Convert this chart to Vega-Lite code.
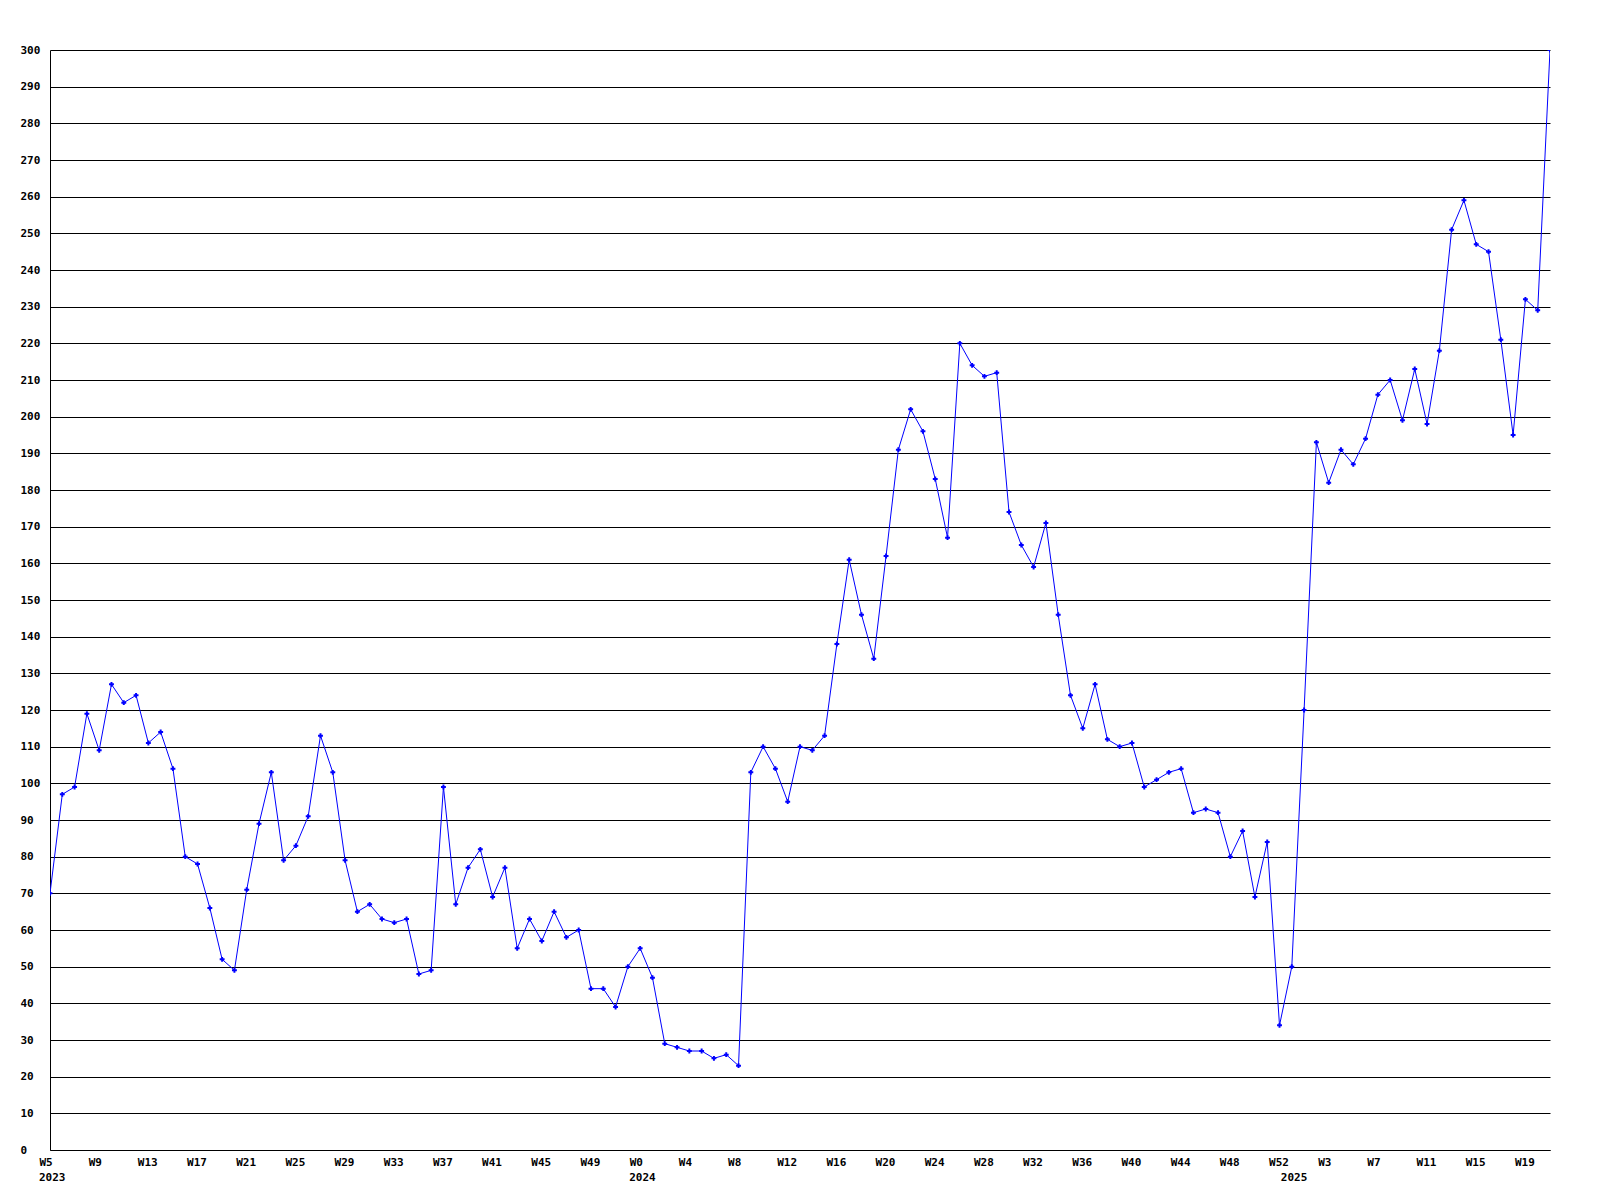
{
  "$schema": "https://vega.github.io/schema/vega-lite/v6.json",
  "width": 1500,
  "height": 1100,
  "autosize": {"type": "none"},
  "padding": {"left": 50, "top": 50, "right": 50, "bottom": 50},
  "background": "white",
  "config": {
    "view": {"stroke": null},
    "axis": {"labelFont": "DejaVu Sans Mono", "labelFontWeight": "bold", "labelFontSize": 11, "labelColor": "black"}
  },
  "data": {"values": [
    {"key":"2023 W5","year":"2023","value":70},{"key":"2023 W6","year":"2023","value":97},{"key":"2023 W7","year":"2023","value":99},{"key":"2023 W8","year":"2023","value":119},
    {"key":"2023 W9","year":"2023","value":109},{"key":"2023 W10","year":"2023","value":127},{"key":"2023 W11","year":"2023","value":122},{"key":"2023 W12","year":"2023","value":124},
    {"key":"2023 W13","year":"2023","value":111},{"key":"2023 W14","year":"2023","value":114},{"key":"2023 W15","year":"2023","value":104},{"key":"2023 W16","year":"2023","value":80},
    {"key":"2023 W17","year":"2023","value":78},{"key":"2023 W18","year":"2023","value":66},{"key":"2023 W19","year":"2023","value":52},{"key":"2023 W20","year":"2023","value":49},
    {"key":"2023 W21","year":"2023","value":71},{"key":"2023 W22","year":"2023","value":89},{"key":"2023 W23","year":"2023","value":103},{"key":"2023 W24","year":"2023","value":79},
    {"key":"2023 W25","year":"2023","value":83},{"key":"2023 W26","year":"2023","value":91},{"key":"2023 W27","year":"2023","value":113},{"key":"2023 W28","year":"2023","value":103},
    {"key":"2023 W29","year":"2023","value":79},{"key":"2023 W30","year":"2023","value":65},{"key":"2023 W31","year":"2023","value":67},{"key":"2023 W32","year":"2023","value":63},
    {"key":"2023 W33","year":"2023","value":62},{"key":"2023 W34","year":"2023","value":63},{"key":"2023 W35","year":"2023","value":48},{"key":"2023 W36","year":"2023","value":49},
    {"key":"2023 W37","year":"2023","value":99},{"key":"2023 W38","year":"2023","value":67},{"key":"2023 W39","year":"2023","value":77},{"key":"2023 W40","year":"2023","value":82},
    {"key":"2023 W41","year":"2023","value":69},{"key":"2023 W42","year":"2023","value":77},{"key":"2023 W43","year":"2023","value":55},{"key":"2023 W44","year":"2023","value":63},
    {"key":"2023 W45","year":"2023","value":57},{"key":"2023 W46","year":"2023","value":65},{"key":"2023 W47","year":"2023","value":58},{"key":"2023 W48","year":"2023","value":60},
    {"key":"2023 W49","year":"2023","value":44},{"key":"2023 W50","year":"2023","value":44},{"key":"2023 W51","year":"2023","value":39},{"key":"2023 W52","year":"2023","value":50},
    {"key":"2024 W0","year":"2024","value":55},{"key":"2024 W1","year":"2024","value":47},{"key":"2024 W2","year":"2024","value":29},{"key":"2024 W3","year":"2024","value":28},
    {"key":"2024 W4","year":"2024","value":27},{"key":"2024 W5","year":"2024","value":27},{"key":"2024 W6","year":"2024","value":25},{"key":"2024 W7","year":"2024","value":26},
    {"key":"2024 W8","year":"2024","value":23},{"key":"2024 W9","year":"2024","value":103},{"key":"2024 W10","year":"2024","value":110},{"key":"2024 W11","year":"2024","value":104},
    {"key":"2024 W12","year":"2024","value":95},{"key":"2024 W13","year":"2024","value":110},{"key":"2024 W14","year":"2024","value":109},{"key":"2024 W15","year":"2024","value":113},
    {"key":"2024 W16","year":"2024","value":138},{"key":"2024 W17","year":"2024","value":161},{"key":"2024 W18","year":"2024","value":146},{"key":"2024 W19","year":"2024","value":134},
    {"key":"2024 W20","year":"2024","value":162},{"key":"2024 W21","year":"2024","value":191},{"key":"2024 W22","year":"2024","value":202},{"key":"2024 W23","year":"2024","value":196},
    {"key":"2024 W24","year":"2024","value":183},{"key":"2024 W25","year":"2024","value":167},{"key":"2024 W26","year":"2024","value":220},{"key":"2024 W27","year":"2024","value":214},
    {"key":"2024 W28","year":"2024","value":211},{"key":"2024 W29","year":"2024","value":212},{"key":"2024 W30","year":"2024","value":174},{"key":"2024 W31","year":"2024","value":165},
    {"key":"2024 W32","year":"2024","value":159},{"key":"2024 W33","year":"2024","value":171},{"key":"2024 W34","year":"2024","value":146},{"key":"2024 W35","year":"2024","value":124},
    {"key":"2024 W36","year":"2024","value":115},{"key":"2024 W37","year":"2024","value":127},{"key":"2024 W38","year":"2024","value":112},{"key":"2024 W39","year":"2024","value":110},
    {"key":"2024 W40","year":"2024","value":111},{"key":"2024 W41","year":"2024","value":99},{"key":"2024 W42","year":"2024","value":101},{"key":"2024 W43","year":"2024","value":103},
    {"key":"2024 W44","year":"2024","value":104},{"key":"2024 W45","year":"2024","value":92},{"key":"2024 W46","year":"2024","value":93},{"key":"2024 W47","year":"2024","value":92},
    {"key":"2024 W48","year":"2024","value":80},{"key":"2024 W49","year":"2024","value":87},{"key":"2024 W50","year":"2024","value":69},{"key":"2024 W51","year":"2024","value":84},
    {"key":"2024 W52","year":"2024","value":34},
    {"key":"2025 W0","year":"2025","value":50},{"key":"2025 W1","year":"2025","value":120},{"key":"2025 W2","year":"2025","value":193},{"key":"2025 W3","year":"2025","value":182},
    {"key":"2025 W4","year":"2025","value":191},{"key":"2025 W5","year":"2025","value":187},{"key":"2025 W6","year":"2025","value":194},{"key":"2025 W7","year":"2025","value":206},
    {"key":"2025 W8","year":"2025","value":210},{"key":"2025 W9","year":"2025","value":199},{"key":"2025 W10","year":"2025","value":213},{"key":"2025 W11","year":"2025","value":198},
    {"key":"2025 W12","year":"2025","value":218},{"key":"2025 W13","year":"2025","value":251},{"key":"2025 W14","year":"2025","value":259},{"key":"2025 W15","year":"2025","value":247},
    {"key":"2025 W16","year":"2025","value":245},{"key":"2025 W17","year":"2025","value":221},{"key":"2025 W18","year":"2025","value":195},{"key":"2025 W19","year":"2025","value":232},
    {"key":"2025 W20","year":"2025","value":229},{"key":"2025 W21","year":"2025","value":300}
  ]},
  "encoding": {
    "x": {
      "field": "key", "type": "ordinal", "sort": null,
      "scale": {"type": "point", "padding": 0},
      "axis": {
        "title": null, "grid": false, "ticks": false, "domainColor": "black", "domainWidth": 1,
        "labelAngle": 0, "labelAlign": "left", "labelBaseline": "top", "labelOffset": -11, "labelPadding": 6,
        "labelOverlap": false, "labelFlush": false,
        "labelExpr": "split(datum.value, ' ')[1]",
        "values": ["2023 W5","2023 W9","2023 W13","2023 W17","2023 W21","2023 W25","2023 W29","2023 W33","2023 W37","2023 W41","2023 W45","2023 W49",
                   "2024 W0","2024 W4","2024 W8","2024 W12","2024 W16","2024 W20","2024 W24","2024 W28","2024 W32","2024 W36","2024 W40","2024 W44","2024 W48","2024 W52",
                   "2025 W3","2025 W7","2025 W11","2025 W15","2025 W19"]
      }
    }
  },
  "layer": [
    {
      "mark": {"type": "line", "color": "#0000ff", "strokeWidth": 1, "clip": true},
      "encoding": {
        "y": {
          "field": "value", "type": "quantitative", "scale": {"domain": [0, 300], "nice": false},
          "axis": {
            "title": null, "grid": true, "gridColor": "black", "gridOpacity": 1, "gridWidth": 1,
            "ticks": false, "domainColor": "black", "domainWidth": 1,
            "labelAlign": "left", "labelBaseline": "middle", "labelPadding": 30, "labelOverlap": false, "labelFlush": false,
            "values": [0,10,20,30,40,50,60,70,80,90,100,110,120,130,140,150,160,170,180,190,200,210,220,230,240,250,260,270,280,290,300]
          }
        }
      }
    },
    {
      "mark": {"type": "point", "shape": "cross", "filled": true, "color": "#0000ff", "size": 24, "opacity": 1, "clip": true},
      "encoding": {
        "y": {
          "field": "value", "type": "quantitative",
          "axis": {
            "title": null, "grid": true, "gridColor": "black", "gridOpacity": 1, "gridWidth": 1,
            "ticks": false, "domainColor": "black", "domainWidth": 1,
            "labelAlign": "left", "labelBaseline": "middle", "labelPadding": 30, "labelOverlap": false, "labelFlush": false,
            "values": [0,10,20,30,40,50,60,70,80,90,100,110,120,130,140,150,160,170,180,190,200,210,220,230,240,250,260,270,280,290,300]
          }
        }
      }
    },
    {
      "transform": [{"filter": "datum.key == '2023 W5' || datum.key == '2024 W0' || datum.key == '2025 W0'"}],
      "mark": {"type": "text", "align": "left", "baseline": "top", "dx": -11, "dy": 22, "font": "DejaVu Sans Mono", "fontWeight": "bold", "fontSize": 11, "color": "black"},
      "encoding": {
        "y": {
          "datum": 0, "type": "quantitative",
          "axis": {
            "title": null, "grid": true, "gridColor": "black", "gridOpacity": 1, "gridWidth": 1,
            "ticks": false, "domainColor": "black", "domainWidth": 1,
            "labelAlign": "left", "labelBaseline": "middle", "labelPadding": 30, "labelOverlap": false, "labelFlush": false,
            "values": [0,10,20,30,40,50,60,70,80,90,100,110,120,130,140,150,160,170,180,190,200,210,220,230,240,250,260,270,280,290,300]
          }
        },
        "text": {"field": "year"}
      }
    }
  ]
}
